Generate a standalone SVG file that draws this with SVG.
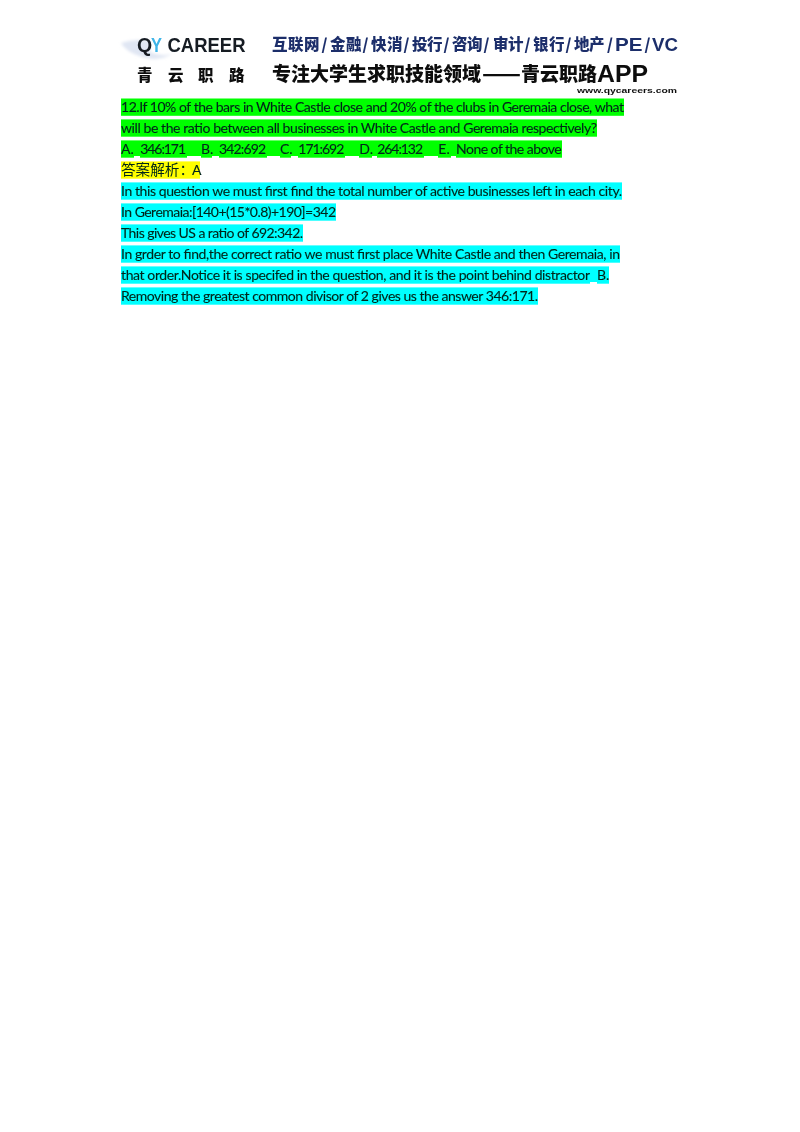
<svg xmlns="http://www.w3.org/2000/svg" width="800" height="1132" viewBox="0 0 800 1132">
<style>
.t{font-family:"Lato","Liberation Sans",sans-serif;font-size:14px;fill:#06251a;stroke:#06251a;stroke-width:.12}
.g{fill:#00ff00}.c{fill:#00ffff}.y{fill:#ffff00}.w{fill:#ffffff}
.h{font-family:"Noto Sans CJK SC","Noto Sans",sans-serif;font-weight:900}
.lat{font-family:"Liberation Sans",sans-serif;font-weight:700}
</style>
<defs><filter id="b" x="-5%" y="-20%" width="110%" height="140%"><feGaussianBlur stdDeviation="0.5"/></filter>
<filter id="b2" x="-5%" y="-50%" width="110%" height="200%"><feGaussianBlur stdDeviation="0.7"/></filter>
<filter id="bt" x="-2%" y="-2%" width="104%" height="104%"><feGaussianBlur stdDeviation="0.22"/></filter>
<filter id="s" x="-20%" y="-50%" width="140%" height="200%"><feGaussianBlur stdDeviation="1.8"/></filter></defs>
<rect width="800" height="1132" fill="#fff"/>
<g id="logo-swoosh" filter="url(#s)"><path d="M121 43 Q135 38 150 41 L150 52 Q160 57 172 54 Q158 62 142 57 Q126 52 121 43Z" fill="#e0e6f3"/></g>
<g id="header" filter="url(#b)">
<text x="137" y="52" class="lat" font-size="19.5" fill="#141a24">Q</text>
<text x="151" y="52" class="lat" font-size="19.5" fill="#3fb5e8" textLength="11" lengthAdjust="spacingAndGlyphs">Y</text>
<text x="167.5" y="52" class="lat" font-size="19.5" fill="#141a24" textLength="78" lengthAdjust="spacingAndGlyphs">CAREER</text>
<text x="137 168 198 229" y="81" class="h" font-size="15.5" fill="#111">青云职路</text>
<text x="272 288 304 321.5 330 346 362.5 371 387 403.5 412 427 443.5 452 467 483.5 493 508 524.5 533 549 565.5 574 589" y="50" class="h" font-size="15.5" fill="#1d2f6b">互联网/金融/快消/投行/咨询/审计/银行/地产</text>
<text x="607" y="50" class="h" font-size="15.5" fill="#1d2f6b">/</text>
<text x="615" y="51" class="lat" font-size="19" fill="#1d2f6b" textLength="27.5" lengthAdjust="spacingAndGlyphs">PE</text>
<text x="644.5" y="50" class="h" font-size="15.5" fill="#1d2f6b">/</text>
<text x="652" y="51" class="lat" font-size="19" fill="#1d2f6b" textLength="26" lengthAdjust="spacingAndGlyphs">VC</text>
<text x="272 291 310 329 348 367 386 405 424 443 462" y="81" class="h" font-size="19" fill="#0c0c0c">专注大学生求职技能领域</text>
<text x="482" y="81" class="h" font-size="19" fill="#0c0c0c" textLength="39" lengthAdjust="spacingAndGlyphs">——</text>
<text x="521 540 559 578" y="81" class="h" font-size="19" fill="#0c0c0c">青云职路</text>
<text x="597" y="82" class="lat" font-size="23" fill="#0c0c0c" textLength="51" lengthAdjust="spacingAndGlyphs">APP</text>
</g>
<text id="url" x="577" y="93" class="lat" font-size="7" fill="#111" textLength="100" lengthAdjust="spacingAndGlyphs" filter="url(#b2)">www.qycareers.com</text>
<g id="highlights">
<rect class="g" x="121" y="98.5" width="503" height="17.3"/>
<rect class="g" x="121" y="119.4" width="476" height="17.3"/>
<rect class="g" x="121" y="140.4" width="441" height="17.3"/>
<rect class="y" x="121" y="161.4" width="79" height="17.3"/>
<rect class="c" x="121" y="182.4" width="501" height="17.3"/>
<rect class="c" x="121" y="203.4" width="215" height="17.3"/>
<rect class="c" x="121" y="224.4" width="182" height="17.3"/>
<rect class="c" x="121" y="245.4" width="499" height="17.3"/>
<rect class="c" x="121" y="266.4" width="488" height="17.3"/>
<rect class="c" x="121" y="287.4" width="417" height="17.3"/>
<rect class="w" x="134" y="156" width="6" height="2"/>
<rect class="w" x="187" y="156" width="14" height="2"/>
<rect class="w" x="212" y="156" width="7" height="2"/>
<rect class="w" x="267" y="156" width="13" height="2"/>
<rect class="w" x="291" y="156" width="7" height="2"/>
<rect class="w" x="345" y="156" width="14" height="2"/>
<rect class="w" x="372" y="156" width="5" height="2"/>
<rect class="w" x="424" y="156" width="14" height="2"/>
<rect class="w" x="451" y="156" width="5" height="2"/>
<rect class="w" x="590" y="282" width="7" height="2"/>
</g>
<g id="text" filter="url(#bt)">
<text class="t" x="121" y="112" textLength="503">12.If 10% of the bars in White Castle close and 20% of the clubs in Geremaia close, what</text>
<text class="t" x="121" y="133" textLength="476">will be the ratio between all businesses in White Castle and Geremaia respectively?</text>
<g>
<text class="t" x="121" y="154">A.</text>
<text class="t" x="140.3" y="154" textLength="45.7">346:171</text>
<text class="t" x="201" y="154">B.</text>
<text class="t" x="219" y="154" textLength="47">342:692</text>
<text class="t" x="280" y="154">C.</text>
<text class="t" x="298.3" y="154" textLength="46">171:692</text>
<text class="t" x="359.3" y="154">D.</text>
<text class="t" x="377.3" y="154" textLength="45.7">264:132</text>
<text class="t" x="438.3" y="154">E.</text>
<text class="t" x="456" y="154" textLength="105.7">None of the above</text>
</g>
<text x="121" y="175" font-size="14.6" fill="#06251a" style="font-family:'Noto Sans CJK SC',sans-serif">答案解析：</text>
<text class="t" x="192" y="175">A</text>
<text class="t" x="121" y="196" textLength="501">In this question we must first find the total number of active businesses left in each city.</text>
<text class="t" x="121" y="217" textLength="215">In Geremaia:[140+(15*0.8)+190]=342</text>
<text class="t" x="121" y="238" textLength="182">This gives US a ratio of 692:342.</text>
<text class="t" x="121" y="259" textLength="499">In grder to find,the correct ratio we must first place White Castle and then Geremaia, in</text>
<text class="t" x="121" y="280" textLength="469">that order.Notice it is specifed in the question, and it is the point behind distractor</text>
<text class="t" x="597" y="280">B.</text>
<text class="t" x="121" y="301" textLength="417">Removing the greatest common divisor of 2 gives us the answer 346:171.</text>
</g>
</svg>
